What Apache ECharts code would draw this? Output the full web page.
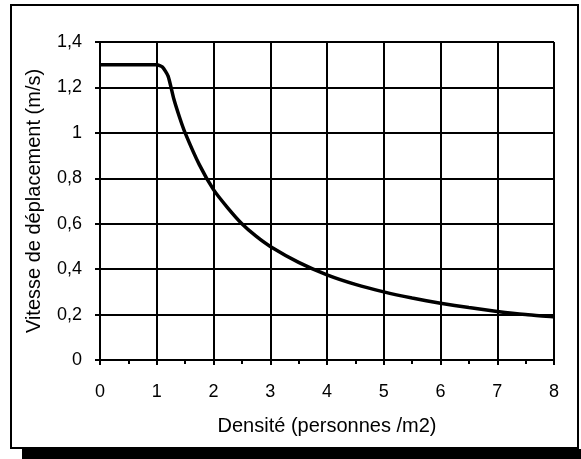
<!DOCTYPE html>
<html>
<head>
<meta charset="utf-8">
<script src="https://cdn.jsdelivr.net/npm/echarts@6/dist/echarts.min.js"></script>
<style>
  html, body { margin: 0; padding: 0; background: #fff; }
  #chart { width: 581px; height: 459px; }
</style>
</head>
<body>
<div id="chart"></div>
<script>
// Pedestrian walking speed versus crowd density
const densite = [0, 1, 1.1, 1.2, 1.3, 1.4, 1.5, 1.75, 2, 2.25, 2.5, 2.75, 3, 3.5, 4, 4.5, 5, 5.5, 6, 6.5, 7, 7.5, 8];
const vitesse = [1.3, 1.3, 1.29, 1.25, 1.15, 1.07, 1.0, 0.86, 0.75, 0.67, 0.6, 0.545, 0.5, 0.43, 0.375, 0.333, 0.3, 0.273, 0.25, 0.231, 0.214, 0.2, 0.19];
const xTicks = [0, 1, 2, 3, 4, 5, 6, 7, 8];
const yTicks = [0, 0.2, 0.4, 0.6, 0.8, 1, 1.2, 1.4];
const xTitle = 'Densité (personnes /m2)';
const yTitle = 'Vitesse de déplacement (m/s)';

const FONT = '"Liberation Sans", Arial, sans-serif';
const ink = '#000';
const fmtComma = v => String(+v.toFixed(1)).replace('.', ',');

const chart = echarts.init(document.getElementById('chart'), null, { renderer: 'canvas' });
chart.setOption({
  backgroundColor: '#fff',
  animation: false,
  grid: { left: 100, top: 42, right: 27, bottom: 99, containLabel: false },
  xAxis: {
    type: 'value',
    min: xTicks[0], max: xTicks[xTicks.length - 1], interval: 1,
    name: xTitle, nameLocation: 'middle', nameGap: 56,
    nameTextStyle: { color: ink, fontFamily: FONT, fontSize: 20 },
    axisLine: { show: true, lineStyle: { color: ink, width: 2 } },
    axisTick: { show: true, length: 5, lineStyle: { color: ink, width: 2 } },
    minorTick: { show: true, splitNumber: 2, length: 4, lineStyle: { color: ink, width: 2 } },
    axisLabel: { color: ink, fontFamily: FONT, fontSize: 18, margin: 23 },
    splitLine: { show: true, lineStyle: { color: ink, width: 2 } }
  },
  yAxis: {
    type: 'value',
    min: yTicks[0], max: yTicks[yTicks.length - 1], interval: 0.2,
    name: yTitle, nameLocation: 'middle', nameGap: 56, nameRotate: 90,
    nameTextStyle: { color: ink, fontFamily: FONT, fontSize: 20 },
    axisLine: { show: true, lineStyle: { color: ink, width: 2 } },
    axisTick: { show: true, length: 5, lineStyle: { color: ink, width: 2 } },
    axisLabel: { color: ink, fontFamily: FONT, fontSize: 18, margin: 18, formatter: fmtComma },
    splitLine: { show: true, lineStyle: { color: ink, width: 2 } }
  },
  series: [{
    type: 'line',
    data: densite.map((d, i) => [d, vitesse[i]]),
    smooth: 0.2,
    showSymbol: false,
    lineStyle: { color: ink, width: 3.5 },
    z: 5
  }],
  graphic: [
    // frame around the chart with a heavy bottom shadow
    { type: 'rect', shape: { x: 11, y: 5, width: 567, height: 443 },
      style: { fill: null, stroke: ink, lineWidth: 2 }, z: 100 },
    { type: 'rect', shape: { x: 22, y: 449, width: 559, height: 10 },
      style: { fill: ink }, z: 100 }
  ]
});
</script>
</body>
</html>
